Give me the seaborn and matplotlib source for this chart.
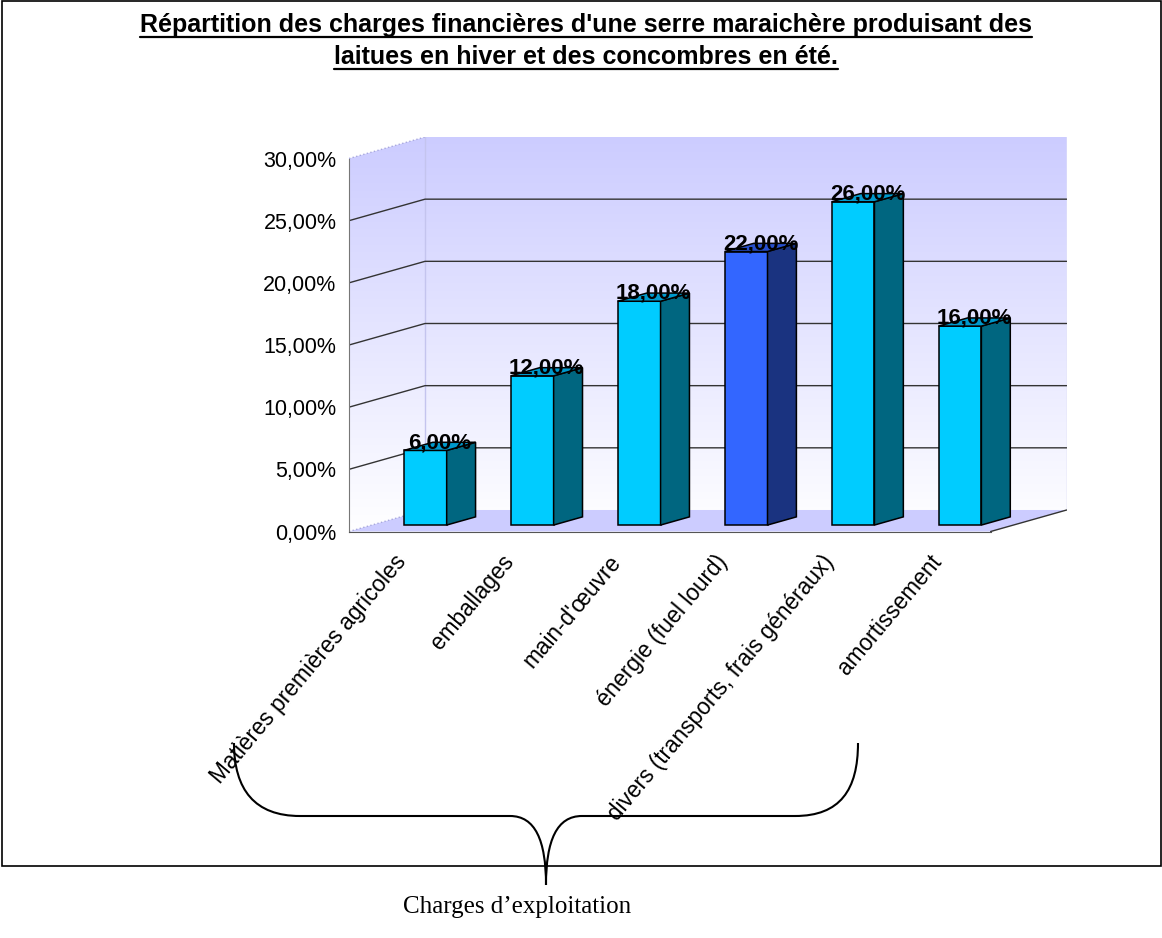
import numpy as np
import pandas as pd
import matplotlib
matplotlib.use('Agg')
import matplotlib.pyplot as plt
import seaborn as sns
from matplotlib.patches import Polygon, Rectangle, PathPatch
from matplotlib.path import Path
from matplotlib.lines import Line2D

# --- data ---
categories = ['Matières premières agricoles', 'emballages', "main-d'œuvre",
              'énergie (fuel lourd)', 'divers (transports, frais généraux)',
              'amortissement']
values = [6, 12, 18, 22, 26, 16]
highlight = [False, False, False, True, False, False]
y_ticks = [0, 5, 10, 15, 20, 25, 30]
y_tick_labels = ['0,00%', '5,00%', '10,00%', '15,00%', '20,00%', '25,00%', '30,00%']
title_lines = ["Répartition des charges financières d'une serre maraichère produisant des",
               "laitues en hiver et des concombres en été."]
brace_label = 'Charges d’exploitation'

# --- fake 3D geometry (depth offset in data units) ---
W, H = 1162, 938
DX, DY = 0.711, 1.73
Z0, Z1 = 0.30, 0.68
ZM = (Z0 + Z1) / 2
BAR_W = 0.40
YMAX = 30

front = {False: '#00CCFF', True: '#3366FF'}
side = {False: '#006680', True: '#1A3380'}
top = {False: '#0099CC', True: '#274FCC'}

sns.set_style('white')
plt.rcParams['font.family'] = ['Liberation Sans', 'DejaVu Sans']
plt.rcParams['text.color'] = 'black'

fig = plt.figure(figsize=(W / 100, H / 100), dpi=100)
ax = fig.add_axes([349 / W, 1 - 531.5 / H, (1066.7 - 349) / W, (531.5 - 137) / H])
ax.set_facecolor('none')

df = pd.DataFrame({'categorie': categories, 'valeur': values})
sns.barplot(data=df, x='categorie', y='valeur', hue='categorie',
            palette=[front[h] for h in highlight], legend=False, width=BAR_W,
            saturation=1, edgecolor='black', linewidth=1.1, ax=ax, zorder=3)

n = len(categories)
x_left, x_right = -0.5, n - 0.5

# walls (side + back) with gradient
wall = Polygon([(x_left, 0), (x_left + DX, DY), (x_right + DX, DY),
                (x_right + DX, YMAX + DY), (x_left + DX, YMAX + DY), (x_left, YMAX)],
               closed=True, fc='none', ec='none')
ax.add_patch(wall)
g = np.linspace(0, 1, 256)[:, None, None]
lav = np.array([204, 204, 255]) / 255
img = 1 + (lav - 1) * g
im = ax.imshow(img, extent=(x_left, x_right + DX, 0, YMAX + DY), origin='lower',
               aspect='auto', zorder=0, interpolation='bilinear')
im.set_clip_path(wall)

# floor
ax.add_patch(Polygon([(x_left, 0), (x_right, 0), (x_right + DX, DY), (x_left + DX, DY)],
                     closed=True, fc='#CCCCFF', ec='none', zorder=1))
ax.plot([x_right, x_right + DX], [0, DY], color='#333333', lw=1, zorder=2)

# faint wall edges
edge_c = '#C4C4EE'
ax.plot([x_left, x_left + DX], [0, DY], color='#A8A8DD', lw=1, ls=':', zorder=1)
ax.plot([x_left, x_left + DX], [YMAX, YMAX + DY], color='#A8A8DD', lw=1, ls=':', zorder=1)
ax.plot([x_left + DX, x_left + DX], [DY, YMAX + DY], color=edge_c, lw=1, zorder=1)
ax.plot([x_right + DX, x_right + DX], [DY, YMAX + DY], color=edge_c, lw=1, zorder=1)

# gridlines
for v in y_ticks[1:-1]:
    ax.plot([x_left, x_left + DX, x_right + DX], [v, v + DY, v + DY],
            color='#333333', lw=1, zorder=2)

# extrude the bars
for cont in ax.containers:
    for bar in cont:
        x, w, h = bar.get_x(), bar.get_width(), bar.get_height()
        i = int(round(x + w / 2))
        hl = highlight[i]
        bar.set_x(x + Z0 * DX)
        bar.set_y(Z0 * DY)
        xl, xr = x + Z0 * DX, x + w + Z0 * DX
        y0, y1 = Z0 * DY, h + Z0 * DY
        ddx, ddy = (Z1 - Z0) * DX, (Z1 - Z0) * DY
        ax.add_patch(Polygon([(xr, y0), (xr + ddx, y0 + ddy), (xr + ddx, y1 + ddy), (xr, y1)],
                             closed=True, fc=side[hl], ec='black', lw=1.1, zorder=3))
        ax.add_patch(Polygon([(xl, y1), (xr, y1), (xr + ddx, y1 + ddy), (xl + ddx, y1 + ddy)],
                             closed=True, fc=top[hl], ec='black', lw=1.1, zorder=3))
        ax.text(i + ZM * DX, h + ZM * DY + 0.3, f'{h:.2f}%'.replace('.', ','),
                ha='center', va='center', fontsize=16, fontweight='bold',
                color='black', zorder=5)

# axes
ax.set_xlim(x_left, x_right + DX)
ax.set_ylim(0, YMAX + DY)
ax.set_xlabel('')
ax.set_ylabel('')
for s in ['top', 'right']:
    ax.spines[s].set_visible(False)
ax.spines['left'].set_bounds(0, YMAX)
ax.spines['left'].set_color('#777777')
ax.spines['bottom'].set_bounds(x_left, x_right)
ax.spines['bottom'].set_color('#555555')
ax.set_yticks(y_ticks, labels=y_tick_labels)
ax.tick_params(axis='y', length=6, color='#777777', labelsize=15.5, pad=3,
               direction='out', labelcolor='black')
ax.set_xticks(range(n), labels=categories)
ax.set_xticks(np.arange(x_left, x_right + 0.5, 1), minor=True)
ax.tick_params(axis='x', which='major', length=0, labelsize=16.3, pad=19, labelcolor='black')
ax.tick_params(axis='x', which='minor', length=7, color='#555555', direction='out')
for lab in ax.get_xticklabels():
    lab.set_rotation(50)
    lab.set_ha('right')
    lab.set_va('center')
    lab.set_rotation_mode('anchor')

# title (underlined)
t1 = fig.text(586 / W, 1 - 32 / H, title_lines[0], ha='center', va='baseline',
              fontsize=18, fontweight='bold')
t2 = fig.text(586 / W, 1 - 64 / H, title_lines[1], ha='center', va='baseline',
              fontsize=18, fontweight='bold')

# outer frame
fig.add_artist(Rectangle((2 / W, 1 - 866 / H), 1159 / W, 865 / H, transform=fig.transFigure,
                         fill=False, ec='black', lw=1.2))

# brace below the chart
pts = [(234, 743), (234, 790), (255, 816), (300, 816), (510, 816),
       (535, 816), (546, 840), (546, 885),
       (546, 840), (557, 816), (582, 816), (795, 816),
       (840, 816), (858, 790), (858, 743)]
codes = [Path.MOVETO, Path.CURVE4, Path.CURVE4, Path.CURVE4, Path.LINETO,
         Path.CURVE4, Path.CURVE4, Path.CURVE4,
         Path.CURVE4, Path.CURVE4, Path.CURVE4, Path.LINETO,
         Path.CURVE4, Path.CURVE4, Path.CURVE4]
brace = Path([(px / W, 1 - py / H) for px, py in pts], codes)
fig.add_artist(PathPatch(brace, transform=fig.transFigure, fill=False, ec='black', lw=1.5))
fig.text(517 / W, 1 - 913 / H, brace_label, ha='center', va='baseline', fontsize=18,
         family=['Liberation Serif', 'DejaVu Serif'])

fig.canvas.draw()
for t, base in [(t1, 32), (t2, 64)]:
    bb = t.get_window_extent()
    yy = 1 - (base + 5) / H
    fig.add_artist(Line2D([bb.x0 / W, bb.x1 / W], [yy, yy], transform=fig.transFigure,
                          color='black', lw=1.6))

fig.savefig('out.png', dpi=100)
